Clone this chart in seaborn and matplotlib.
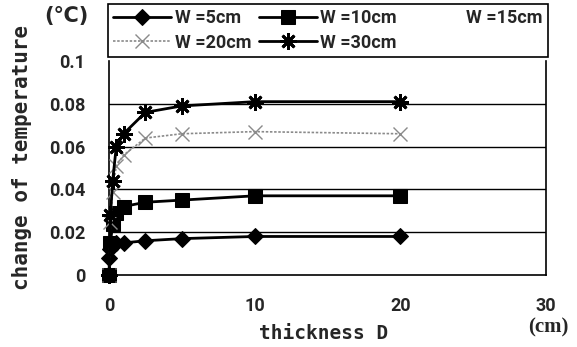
import numpy as np
import pandas as pd
import matplotlib
matplotlib.use('Agg')
import matplotlib.pyplot as plt
from matplotlib.lines import Line2D
import seaborn as sns

# thickness D (cm) and temperature change for each width W
x_cm = [0, 0.1, 0.25, 0.5, 1, 2.5, 5, 10, 20]
w5 = [0.008, 0.012, 0.014, 0.015, 0.015, 0.016, 0.017, 0.018, 0.018]
w10 = [0.0, 0.015, 0.024, 0.029, 0.032, 0.034, 0.035, 0.037, 0.037]
w20 = [0.0, 0.025, 0.039, 0.051, 0.056, 0.064, 0.066, 0.067, 0.066]
w30 = [0.0, 0.028, 0.044, 0.060, 0.066, 0.076, 0.079, 0.081, 0.081]
y_ticks = [0, 0.02, 0.04, 0.06, 0.08, 0.1]
y_ticklabels = ['0', '0.02', '0.04', '0.06', '0.08', '0.1']
x_ticks = [0, 10, 20, 30]

sns.set_style('white')
plt.rcParams['font.family'] = ['Roboto', 'DejaVu Sans']

fig = plt.figure(figsize=(5.77, 3.47), dpi=100)
ax = fig.add_axes([109 / 577, 1 - 275 / 347, 437 / 577, 214 / 347])

series = [
  ('W =5cm', w5, dict(color='black', marker='D', markersize=8, markeredgecolor='black',
                      linewidth=2.0, linestyle='-')),
  ('W =10cm', w10, dict(color='black', marker='s', markersize=10, markeredgecolor='black',
                        linewidth=2.0, linestyle='-')),
  ('W =20cm', w20, dict(color='#8a8a8a', marker='x', markersize=10, markeredgewidth=1.0,
                        markeredgecolor='#8a8a8a', linewidth=1.2, linestyle=(0, (1.5, 1)))),
  ('W =30cm', w30, dict(color='black', marker=(8, 2, 0), markersize=12, markeredgewidth=2.0,
                        markeredgecolor='black', linewidth=2.0, linestyle='-')),
]

handles = {}
for name, vals, kw in series:
  df = pd.DataFrame({'D': x_cm, 'T': vals})
  sns.lineplot(data=df, x='D', y='T', ax=ax, clip_on=False, zorder=3, **kw)
  handles[name] = ax.get_lines()[-1]

# W=15cm shows only in the legend
handles['W =15cm'] = Line2D([], [], color='none')

ax.set_xlim(0, 30)
ax.set_ylim(0, 0.1)
ax.set_yticks(y_ticks)
ax.set_yticklabels(y_ticklabels)
ax.set_xticks(x_ticks)
ax.set_xticklabels([str(t) for t in x_ticks])
for t in y_ticks[1:-1]:
  ax.axhline(t, color='black', linewidth=1.0, zorder=1)

ax.tick_params(axis='y', length=0, pad=17, labelsize=13)
ax.tick_params(axis='x', direction='in', length=4, width=0.8, pad=16, labelsize=13)
for lab in ax.get_xticklabels() + ax.get_yticklabels():
  lab.set_fontweight('bold')

for s in ['left', 'right', 'bottom']:
  ax.spines[s].set_visible(True)
  ax.spines[s].set_color('black')
  ax.spines[s].set_linewidth(1.2)
ax.spines['top'].set_visible(False)

ax.set_xlabel('thickness D', family='DejaVu Sans Mono', fontweight='bold', fontsize=14, labelpad=0)
ax.set_ylabel('change of temperature', family='DejaVu Sans Mono', fontweight='bold', fontsize=15)
ax.yaxis.set_label_coords(-(109 - 32) / 437, 0.55)
ax.xaxis.set_label_coords(0.49, -(324 - 275) / 214)

fig.text(66 / 577, 1 - 16 / 347, '(℃)', ha='center', va='center', fontsize=15,
         fontweight='bold', family=['DejaVu Sans'])
fig.text(548 / 577, 1 - 327 / 347, '(cm)', ha='center', va='center', fontsize=15,
         fontweight='bold', family='Liberation Serif')

order = ['W =5cm', 'W =20cm', 'W =10cm', 'W =30cm', 'W =15cm']
leg = fig.legend([handles[k] for k in order], order, ncol=3, loc='upper left',
                 bbox_to_anchor=(108 / 577, 1 - 62 / 347, 440 / 577, 58 / 347), mode='expand',
                 fancybox=False, edgecolor='black', framealpha=1, fontsize=13,
                 handlelength=3.2, handletextpad=0.2, borderaxespad=0, labelspacing=0.35,
                 borderpad=0.3, columnspacing=1.0)
leg.get_frame().set_linewidth(1.2)
for txt in leg.get_texts():
  txt.set_fontweight('bold')

fig.savefig('out.png', dpi=100)
